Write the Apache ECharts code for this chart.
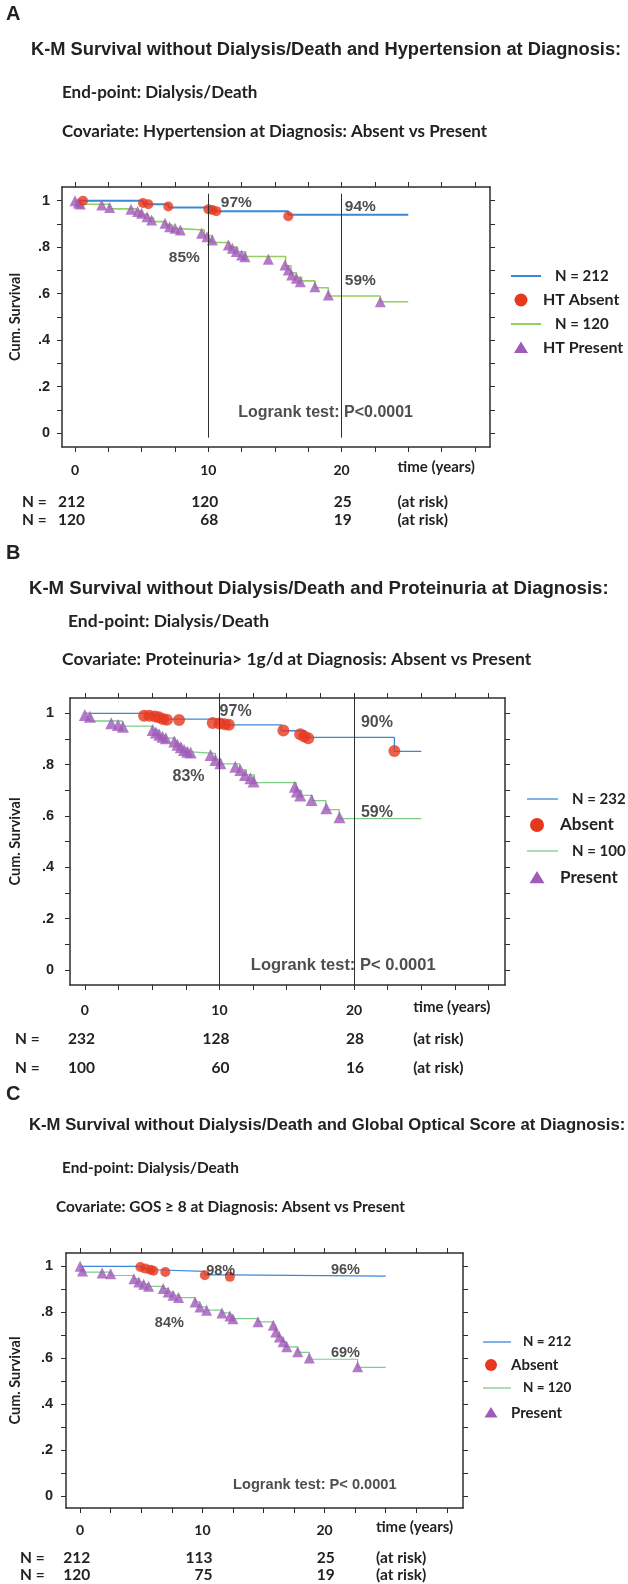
<!DOCTYPE html>
<html><head><meta charset="utf-8">
<script src="https://cdn.jsdelivr.net/npm/echarts@6/dist/echarts.min.js"></script>
<style>html,body{margin:0;padding:0;background:#fff}#c{width:628px;height:1584px}</style>
</head><body><div id="c"></div>
<script>
// ---------- shared axis values ----------
const xTickValues = [0,2.5,5,7.5,10,12.5,15,17.5,20,22.5,25,27.5,30];
const xLabelValues = [0,10,20];
const yTickValues = [0,0.1,0.2,0.3,0.4,0.5,0.6,0.7,0.8,0.9,1];
const yLabelValues = [0,0.2,0.4,0.6,0.8,1];
const refTimes = [10,20];
const riskTimes = [0,10,20];

// ---------- Panel A ----------
const aLetter = 'A';
const aTitle = 'K-M Survival without Dialysis/Death and Hypertension at Diagnosis:';
const aEnd = 'End-point: Dialysis/Death';
const aCov = 'Covariate: Hypertension at Diagnosis: Absent vs Present';
const aNames = ['N = 212','HT Absent','N = 120','HT Present'];
const aBlueT = [0, 5.1, 7.0, 10.4, 16.0, 25];
const aBlueS = [1.0, 0.985, 0.971, 0.955, 0.94, 0.94];
const aRedT = [0.6, 5.1, 5.5, 7.0, 10.0, 10.3, 10.6, 16.0];
const aRedS = [1.0, 0.99, 0.985, 0.975, 0.963, 0.96, 0.955, 0.933];
const aGreenT = [0,0.4,2.6,4.6,5.0,5.5,5.9,6.8,7.3,7.9,9.7,10.3,11.6,12.2,12.8,15.8,16.2,16.6,17.0,18.0,19.0,22.9,25];
const aGreenS = [1.0,0.985,0.965,0.955,0.94,0.925,0.91,0.895,0.88,0.874,0.85,0.82,0.8,0.78,0.76,0.72,0.69,0.67,0.655,0.625,0.59,0.565,0.565];
const aPurpleT = [0,0.25,0.4,2.0,2.6,4.2,4.7,5.0,5.4,5.75,6.75,7.1,7.5,7.9,9.5,9.9,10.3,11.5,11.8,12.1,12.5,12.75,14.5,15.75,16.0,16.25,16.6,16.9,18.0,19.0,22.9];
const aPurpleS = [1.0,0.99,0.986,0.981,0.971,0.963,0.953,0.946,0.931,0.917,0.903,0.888,0.881,0.874,0.86,0.845,0.831,0.809,0.795,0.781,0.766,0.759,0.748,0.723,0.702,0.68,0.666,0.651,0.63,0.594,0.565];
const aNoteText = ['97%','94%','85%','59%','Logrank test: P<0.0001'];
const aNoteX = [12.1, 21.4, 8.2, 21.4, 18.8];
const aNoteY = [0.99, 0.974, 0.753, 0.654, 0.086];
const aRiskAbsent = [212,120,25];
const aRiskPresent = [120,68,19];

// ---------- Panel B ----------
const bLetter = 'B';
const bTitle = 'K-M Survival without Dialysis/Death and Proteinuria at Diagnosis:';
const bEnd = 'End-point: Dialysis/Death';
const bCov = 'Covariate: Proteinuria> 1g/d at Diagnosis: Absent vs Present';
const bNames = ['N = 232','Absent','N = 100','Present'];
const bBlueT = [0, 5.0, 6.0, 10.3, 14.6, 16.4, 23.0, 25];
const bBlueS = [1.0, 0.99, 0.977, 0.955, 0.932, 0.906, 0.852, 0.852];
const bRedT = [4.4,4.8,5.2,5.5,5.8,6.1,7.0,9.5,10.0,10.4,10.7,14.75,16.0,16.3,16.6,23.0];
const bRedS = [0.99,0.99,0.988,0.985,0.978,0.975,0.974,0.962,0.96,0.957,0.955,0.933,0.918,0.91,0.903,0.853];
const bGreenT = [0,0.4,2.8,5.0,5.5,6.0,6.7,7.2,7.6,7.9,9.7,10.1,11.5,12.0,12.6,15.7,16.1,16.9,17.9,18.9,25];
const bGreenS = [1.0,0.97,0.95,0.935,0.915,0.903,0.88,0.865,0.85,0.844,0.82,0.803,0.78,0.76,0.73,0.7,0.68,0.66,0.625,0.59,0.59];
const bPurpleT = [0.0,0.37,1.96,2.46,2.83,5.04,5.28,5.53,5.77,6.02,6.64,6.88,7.13,7.37,7.62,7.86,9.34,9.7,10.07,11.18,11.55,11.9,12.3,12.54,15.6,15.75,16.0,16.85,17.94,18.92];
const bPurpleS = [0.993,0.987,0.961,0.954,0.948,0.935,0.925,0.916,0.909,0.903,0.89,0.877,0.868,0.857,0.85,0.847,0.838,0.818,0.805,0.792,0.779,0.76,0.747,0.734,0.714,0.695,0.68,0.662,0.63,0.595];
const bNoteText = ['97%','83%','90%','59%','Logrank test: P< 0.0001'];
const bNoteX = [11.2, 7.7, 21.7, 21.7, 19.2];
const bNoteY = [1.005, 0.752, 0.962, 0.612, 0.016];
const bRiskAbsent = [232,128,28];
const bRiskPresent = [100,60,16];

// ---------- Panel C ----------
const cLetter = 'C';
const cTitle = 'K-M Survival without Dialysis/Death and Global Optical Score at Diagnosis:';
const cEnd = 'End-point: Dialysis/Death';
const cCov = 'Covariate: GOS \u2265 8 at Diagnosis: Absent vs Present';
const cNames = ['N = 212','Absent','N = 120','Present'];
const cBlueT = [0, 5.0, 5.5, 6.0, 10.2, 12.2, 25];
const cBlueS = [1.0, 0.99, 0.985, 0.978, 0.963, 0.957, 0.957];
const cRedT = [4.93, 5.34, 5.75, 6.0, 6.97, 10.2, 12.25];
const cRedS = [0.997, 0.99, 0.985, 0.981, 0.975, 0.961, 0.954];
const cGreenT = [0,0.2,2.5,4.4,4.8,5.2,5.6,6.8,7.2,7.6,8.05,9.4,9.8,10.35,11.6,12.25,12.5,14.55,15.8,16.0,16.3,16.6,16.9,17.8,18.75,22.7,25];
const cGreenS = [1.0,0.975,0.96,0.945,0.932,0.922,0.913,0.903,0.888,0.874,0.864,0.845,0.823,0.809,0.797,0.783,0.772,0.758,0.743,0.714,0.692,0.671,0.649,0.625,0.595,0.56,0.56];
const cPurpleT = [0.0,0.2,1.8,2.5,4.4,4.8,5.2,5.6,6.8,7.2,7.6,8.05,9.4,9.8,10.35,11.6,12.25,12.5,14.55,15.8,16.0,16.3,16.6,16.9,17.8,18.75,22.7];
const cPurpleS = [1.0,0.98,0.971,0.968,0.946,0.932,0.922,0.913,0.903,0.888,0.874,0.864,0.845,0.823,0.809,0.797,0.783,0.772,0.758,0.743,0.714,0.692,0.671,0.649,0.628,0.6,0.562];
const cNoteText = ['98%','96%','84%','69%','Logrank test: P< 0.0001'];
const cNoteX = [11.5, 21.7, 7.3, 21.7, 19.2];
const cNoteY = [0.978, 0.983, 0.752, 0.622, 0.048];
const cRiskAbsent = [212,113,25];
const cRiskPresent = [120,75,19];

// ---------- rendering ----------
const ARIAL = "'Liberation Sans', Arial, sans-serif";
const CAL = "Lato, 'Open Sans', sans-serif";
const BLUE = '#3b88d8', RED = '#e6381f', PURPLE = '#a05ab9', GREEN_A = '#93cf63', GREEN = '#7ccd86', INK = '#222', AX = '#2e2e2e';

const panels = [
  {letter:aLetter,title:aTitle,end:aEnd,cov:aCov,names:aNames,blueT:aBlueT,blueS:aBlueS,redT:aRedT,redS:aRedS,greenT:aGreenT,greenS:aGreenS,purT:aPurpleT,purS:aPurpleS,noteT:aNoteText,noteX:aNoteX,noteY:aNoteY,riskA:aRiskAbsent,riskP:aRiskPresent,
   g:{left:62,top:187,width:428,height:260,xmin:-0.975,xmax:31.13,ymin:-0.0603,ymax:1.059,xm:16,ym:12,nameGap:39,bw:2,gw:1.6,green:GREEN_A,cs:10,ts:11,refY:[-0.02,1.03],
      lg:{x0:511,x1:541,mk:521,tN:555,tL:543,rows:[276,300,324,348],fsN:15,fsL:16,r:6.5},
      letterY:14,titleX:31,titleY:50,titleFs:18.3,endX:62,endY:93,covX:62,covY:132,subFs:17,noteFs:15.5,logFs:16,riskY:[502,520],nX:22,labY:470,timeX:24.2}},
  {letter:bLetter,title:bTitle,end:bEnd,cov:bCov,names:bNames,blueT:bBlueT,blueS:bBlueS,redT:bRedT,redS:bRedS,greenT:bGreenT,greenS:bGreenS,purT:bPurpleT,purS:bPurpleS,noteT:bNoteText,noteX:bNoteX,noteY:bNoteY,riskA:bRiskAbsent,riskP:bRiskPresent,
   g:{left:67,top:698,width:438,height:287,xmin:-1.106,xmax:31.22,ymin:-0.0584,ymax:1.0596,xm:18,ym:16,nameGap:47,bw:1.3,gw:1.3,green:GREEN,cs:12,ts:12,refY:[-0.0584,1.0596],
      lg:{x0:527,x1:558,mk:537,tN:572,tL:560,rows:[799,825,851,878],fsN:15,fsL:17,r:7},
      letterY:553,titleX:29,titleY:589,titleFs:18.6,endX:68,endY:621,covX:62,covY:659,subFs:17.5,noteFs:16,logFs:16.5,riskY:[1039,1068],nX:15,labY:1010,timeX:24.4}},
  {letter:cLetter,title:cTitle,end:cEnd,cov:cCov,names:cNames,blueT:cBlueT,blueS:cBlueS,redT:cRedT,redS:cRedS,greenT:cGreenT,greenS:cGreenS,purT:cPurpleT,purS:cPurpleS,noteT:cNoteText,noteX:cNoteX,noteY:cNoteY,riskA:cRiskAbsent,riskP:cRiskPresent,
   g:{left:62,top:1253,width:401,height:255,xmin:-1.156,xmax:31.32,ymin:-0.053,ymax:1.058,xm:15,ym:13,nameGap:43,bw:1.2,gw:1.2,green:GREEN,cs:10,ts:11,refY:[-0.08,1.058],
      lg:{x0:483,x1:511,mk:491,tN:523,tL:511,rows:[1342,1365,1388,1413],fsN:13.5,fsL:15,r:6},
      letterY:1094,titleX:29,titleY:1125,titleFs:16.7,endX:62,endY:1168,covX:56,covY:1207,subFs:15.4,noteFs:14.5,logFs:14.6,riskY:[1558,1575],nX:20,labY:1530,timeX:24.2}}
];

function pairs(T,S){ return T.map((t,i)=>[t,S[i]]); }
function yFmt(v){ if (Math.abs(v) < 1e-9) return '0'; if (Math.abs(v-1) < 1e-9) return '1'; return '.' + Math.round(v*10); }

const chart = echarts.init(document.getElementById('c'));
const option = {animation:false, backgroundColor:'#fff', grid:[], xAxis:[], yAxis:[], series:[]};

panels.forEach((p,i)=>{
  const g = p.g;
  option.grid.push({left:g.left, top:g.top, width:g.width, height:g.height, show:false});
  const axLine = {show:true, onZero:false, lineStyle:{color:AX, width:1.5}};
  const tick = vals => ({show:true, customValues:vals, length:5, inside:false, lineStyle:{color:AX, width:1}});
  option.xAxis.push({type:'value', gridIndex:i, position:'bottom', min:g.xmin, max:g.xmax, axisLine:axLine, axisTick:tick(xTickValues),
    axisLabel:{customValues:xLabelValues, margin:g.xm, fontFamily:CAL, fontWeight:'bold', fontSize:14, color:INK}, splitLine:{show:false}});
  option.xAxis.push({type:'value', gridIndex:i, position:'top', min:g.xmin, max:g.xmax, axisLine:axLine, axisTick:tick(xTickValues), axisLabel:{show:false}, splitLine:{show:false}});
  option.yAxis.push({type:'value', gridIndex:i, position:'left', min:g.ymin, max:g.ymax, axisLine:axLine, axisTick:tick(yTickValues),
    axisLabel:{customValues:yLabelValues, formatter:yFmt, margin:g.ym, fontFamily:ARIAL, fontWeight:'bold', fontSize:14.5, color:INK},
    name:'Cum. Survival', nameLocation:'middle', nameGap:g.nameGap, nameRotate:90, nameTextStyle:{fontFamily:CAL, fontWeight:'bold', fontSize:14.5, color:INK},
    splitLine:{show:false}});
  option.yAxis.push({type:'value', gridIndex:i, position:'right', min:g.ymin, max:g.ymax, axisLine:axLine, axisTick:tick(yTickValues), axisLabel:{show:false}, splitLine:{show:false}});
  const xi = 2*i, yi = 2*i;
  option.series.push({type:'line', name:p.names[0], xAxisIndex:xi, yAxisIndex:yi, data:pairs(p.blueT,p.blueS), step:'end', symbol:'none', showSymbol:false,
    lineStyle:{color:BLUE, width:g.bw}, itemStyle:{color:BLUE}, z:2,
    markLine:{silent:true, symbol:['none','none'], label:{show:false}, lineStyle:{color:AX, width:1, type:'solid'},
      data: refTimes.map(t=>[{coord:[t,g.refY[0]]},{coord:[t,g.refY[1]]}])}});
  option.series.push({type:'scatter', name:p.names[1], xAxisIndex:xi, yAxisIndex:yi, data:pairs(p.redT,p.redS), symbol:'circle', symbolSize:g.cs, itemStyle:{color:RED}, z:4});
  option.series.push({type:'line', name:p.names[2], xAxisIndex:xi, yAxisIndex:yi, data:pairs(p.greenT,p.greenS), step:'end', symbol:'none', showSymbol:false,
    lineStyle:{color:g.green, width:g.gw}, itemStyle:{color:g.green}, z:2});
  option.series.push({type:'scatter', name:p.names[3], xAxisIndex:xi, yAxisIndex:yi, data:pairs(p.purT,p.purS), symbol:'triangle', symbolSize:g.ts, itemStyle:{color:PURPLE}, z:3});
  option.series.push({type:'scatter', name:'notes'+i, xAxisIndex:xi, yAxisIndex:yi, silent:true, symbolSize:1, itemStyle:{color:'rgba(0,0,0,0)'}, z:6,
    data:p.noteT.map((t,k)=>({name:t, value:[p.noteX[k], p.noteY[k]],
      label:{fontSize: k===p.noteT.length-1 ? g.logFs : g.noteFs}})),
    label:{show:true, position:'inside', formatter:'{b}', fontFamily:ARIAL, fontWeight:'bold', color:INK}});
});

chart.setOption(option);

// text and legend elements
const gr = [];
function txt(x,y,text,font,align){ gr.push({type:'text', x:x, y:y, silent:true, style:{text:text, font:font, fill:INK, textAlign:align||'left', textVerticalAlign:'middle', align:align||'left', verticalAlign:'middle'}}); }
panels.forEach((p,i)=>{
  const g = p.g;
  txt(6, g.letterY, p.letter, "bold 20px 'Liberation Sans', Arial, sans-serif");
  txt(g.titleX, g.titleY, p.title, "bold "+g.titleFs+"px 'Liberation Sans', Arial, sans-serif");
  txt(g.endX, g.endY, p.end, "bold "+g.subFs+"px Lato, sans-serif");
  txt(g.covX, g.covY, p.cov, "bold "+g.subFs+"px Lato, sans-serif");
  const px = t => chart.convertToPixel({xAxisIndex:2*i}, t);
  const riskFont = "bold 15.5px Lato, sans-serif";
  txt(px(g.timeX), g.labY-3, 'time (years)', "bold 15px Lato, sans-serif");
  [p.riskA, p.riskP].forEach((row,r)=>{
    txt(g.nX, g.riskY[r], 'N =', riskFont);
    row.forEach((v,k)=> txt(px(riskTimes[k])+10, g.riskY[r], String(v), riskFont, 'right'));
    txt(px(g.timeX), g.riskY[r], '(at risk)', riskFont);
  });
  // legend
  const L = g.lg;
  const lineCols = [BLUE, g.green];
  [0,2].forEach((k,j)=>{
    gr.push({type:'line', silent:true, shape:{x1:L.x0, y1:L.rows[k], x2:L.x1, y2:L.rows[k]}, style:{stroke:lineCols[j], lineWidth:Math.max(1.3,g.bw)}});
    txt(L.tN, L.rows[k], p.names[k], "bold "+L.fsN+"px Lato, sans-serif");
  });
  gr.push({type:'circle', silent:true, shape:{cx:L.mk, cy:L.rows[1], r:L.r}, style:{fill:RED}});
  txt(L.tL, L.rows[1], p.names[1], "bold "+L.fsL+"px Lato, sans-serif");
  const r = L.r, cy = L.rows[3];
  gr.push({type:'polygon', silent:true, shape:{points:[[L.mk, cy-r], [L.mk-r-0.5, cy+r*0.75], [L.mk+r+0.5, cy+r*0.75]]}, style:{fill:PURPLE}});
  txt(L.tL, L.rows[3], p.names[3], "bold "+L.fsL+"px Lato, sans-serif");
});
chart.setOption({graphic:gr});
</script></body></html>
